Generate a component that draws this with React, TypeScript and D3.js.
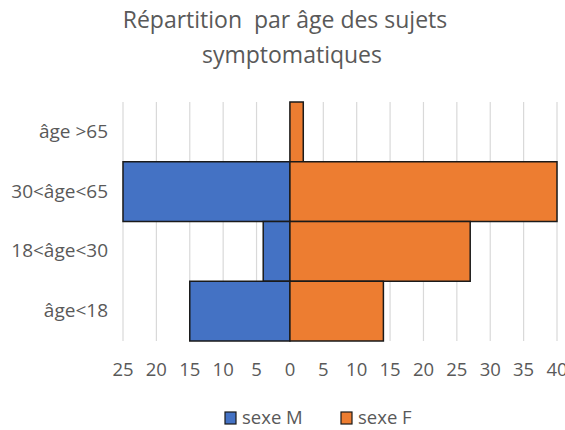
import * as d3 from "d3";

const categories = ["âge >65", "30<âge<65", "18<âge<30", "âge<18"];
const maleValues = [0, 25, 4, 15];
const femaleValues = [2, 40, 27, 14];
const tickValues = [-25, -20, -15, -10, -5, 0, 5, 10, 15, 20, 25, 30, 35, 40];
const seriesNames = ["sexe M", "sexe F"];

const W = 565, H = 430;
const FONT = "'Open Sans', 'Noto Sans', sans-serif";
const TXT = "#595959";

const App = () => {
  // scales
  const x = d3.scaleLinear().domain([-25, 40]).range([123, 557]);
  const y = d3.scaleBand().domain(categories).range([102, 341]).padding(0);
  const colors = ["#4472C4", "#ED7D31"];

  return (
    <svg width={W} height={H} style={{position: "absolute", left: 0, top: 0, background: "#fff"}} fontFamily={FONT}>
      <text x={285} y={28} textAnchor="middle" fontSize={23} fill={TXT} style={{whiteSpace: "pre"}}>Répartition  par âge des sujets</text>
      <text x={292} y={63} textAnchor="middle" fontSize={23} fill={TXT}>symptomatiques</text>

      {/* gridlines */}
      {tickValues.map(t => (
        <line key={"g" + t} x1={x(t)} x2={x(t)} y1={102} y2={341} stroke="#d9d9d9" strokeWidth={1.2} />
      ))}

      {/* bars */}
      {categories.map((c, i) => (
        <g key={c}>
          {maleValues[i] > 0 && (
            <rect x={x(-maleValues[i])} y={y(c)} width={x(0) - x(-maleValues[i])} height={y.bandwidth()}
              fill={colors[0]} stroke="#1a1a1a" strokeWidth={1.5} />
          )}
          {femaleValues[i] > 0 && (
            <rect x={x(0)} y={y(c)} width={x(femaleValues[i]) - x(0)} height={y.bandwidth()}
              fill={colors[1]} stroke="#1a1a1a" strokeWidth={1.5} />
          )}
        </g>
      ))}

      {/* category labels */}
      {categories.map(c => (
        <text key={"l" + c} x={108} y={y(c) + y.bandwidth() / 2 + 6} textAnchor="end" fontSize={19} fill={TXT}>{c}</text>
      ))}

      {/* x tick labels */}
      {tickValues.map(t => (
        <text key={"t" + t} x={x(t)} y={376} textAnchor="middle" fontSize={18.5} fill={TXT}>{Math.abs(t)}</text>
      ))}

      {/* legend */}
      {seriesNames.map((s, i) => {
        const lx = i === 0 ? 225 : 341;
        return (
          <g key={s}>
            <rect x={lx} y={412} width={11} height={12} fill={colors[i]} stroke="#1a1a1a" strokeWidth={1.2} />
            <text x={lx + 17} y={424} fontSize={18.5} fill={TXT}>{s}</text>
          </g>
        );
      })}
    </svg>
  );
};

export default App;
